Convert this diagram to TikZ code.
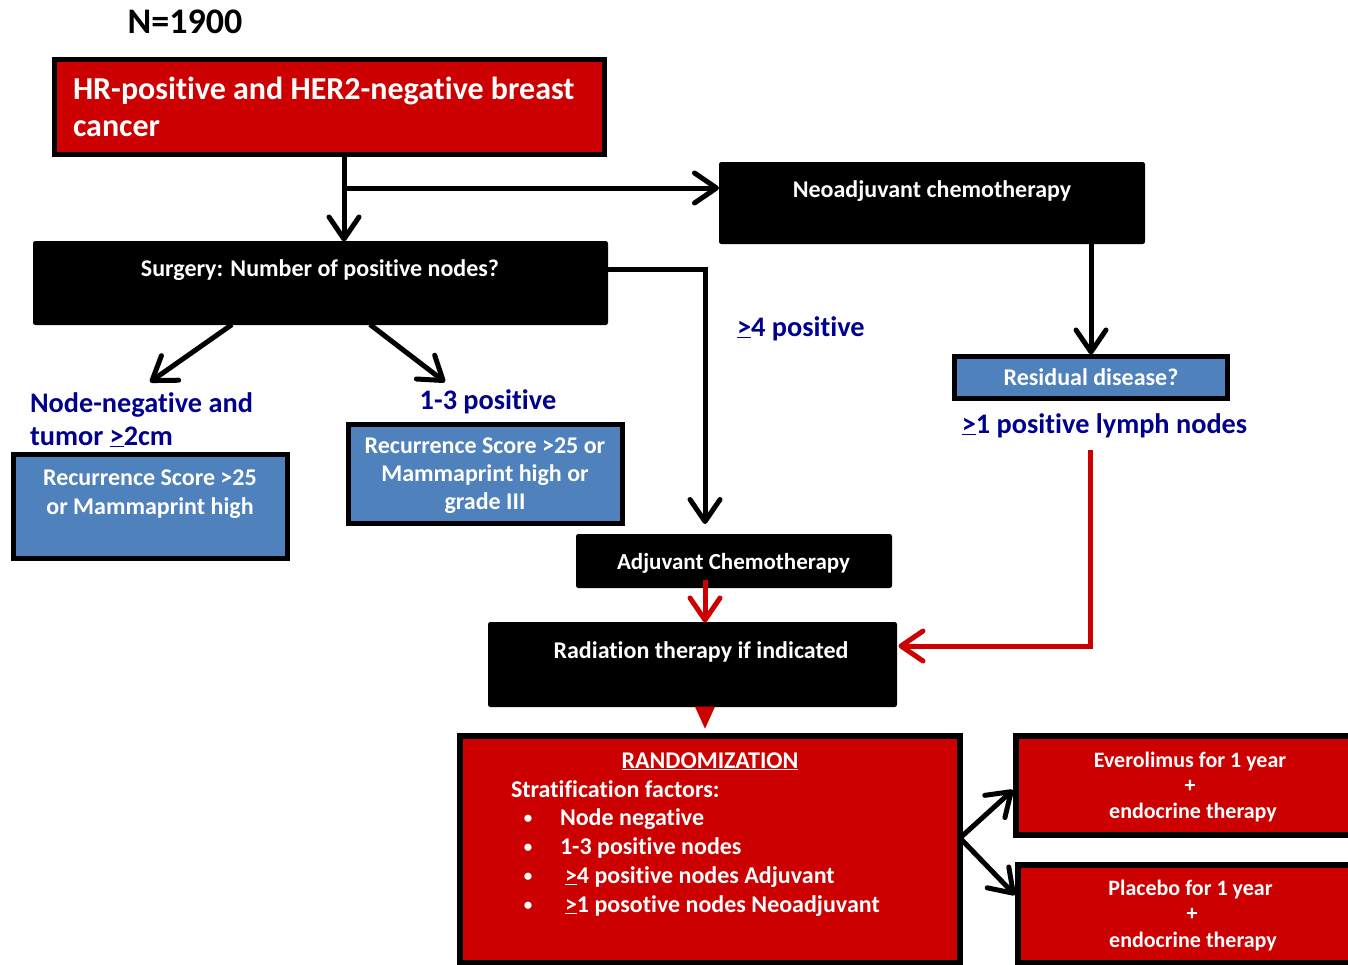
\documentclass[tikz,border=0pt]{standalone}
\usepackage{fontspec}
\setmainfont{Carlito}[Ligatures=NoCommon]
\usetikzlibrary{arrows.meta}
\definecolor{myred}{RGB}{204,0,0}
\definecolor{myblue}{RGB}{79,129,189}
\definecolor{mynavy}{RGB}{0,0,140}
\newcommand\fsz[1]{\fontsize{#1}{#1}\selectfont}
\begin{document}
\begin{tikzpicture}[x=1pt,y=-1pt,
  every node/.style={inner sep=0pt, outer sep=0pt},
  redbox/.style={draw=black, fill=myred, line width=#1},
  bluebox/.style={draw=black, fill=myblue, line width=5pt},
  blackbox/.style={draw=black, fill=black, line width=1pt, rounded corners=2pt},
  wt/.style={text=white, anchor=base, font=\bfseries\fsz{24}},
  nt/.style={text=mynavy, anchor=base west, font=\bfseries\fsz{28.3}},
  conn/.style={draw=black, line width=5pt, -{Straight Barb[length=22pt,width=30pt,round]}},
  redconn/.style={draw=myred, line width=5pt, -{Straight Barb[length=22pt,width=30pt,round]}},
  tri/.style={draw=myred, line width=0.1pt, -{Triangle[length=22pt,width=20pt,fill=myred]}}
]
\useasboundingbox (0,0) rectangle (1348,964);

% boxes
\node[redbox=5pt, minimum width=550, minimum height=95] (hr) at (329.5,107) {};
\node[blackbox, minimum width=425, minimum height=81] (neo) at (932,203) {};
\node[blackbox, minimum width=574, minimum height=83] (surg) at (320.5,283) {};
\node[bluebox, minimum width=274, minimum height=104] (b1) at (150.5,506.5) {};
\node[bluebox, minimum width=274, minimum height=99] (b2) at (485.5,474) {};
\node[bluebox, minimum width=273, minimum height=42] (res) at (1091,377.5) {};
\node[blackbox, minimum width=315, minimum height=53] (adj) at (734,561) {};
\node[blackbox, minimum width=408, minimum height=84] (rad) at (692.5,664.5) {};
\node[redbox=6pt, minimum width=500, minimum height=227] (rand) at (710,849.5) {};
\node[redbox=6pt, minimum width=341, minimum height=99] (ever) at (1186.5,785.5) {};
\node[redbox=6pt, minimum width=339, minimum height=98] (plac) at (1187.5,914) {};

% texts
\node[anchor=base, font=\bfseries\fsz{36}] (n) at (185,33) {N=1900};
\node[anchor=base west, text=white, font=\bfseries\fsz{32}] (hr1) at (73,99) {HR-positive and HER2-negative breast};
\node[anchor=base west, text=white, font=\bfseries\fsz{32}] (hr2) at (73,136) {cancer};
\node[wt] (neot) at (932,197) {Neoadjuvant chemotherapy};
\node[wt] (surgt) at (320,276) {Surgery: Number of positive nodes?};
\node[nt] (ge4) at (737,336) {\underline{>}4 positive};
\node[nt] (nn1) at (30,412) {Node-negative and};
\node[nt] (nn2) at (30,445) {tumor \underline{>}2cm};
\node[nt, anchor=base] (ot) at (488,409) {1-3 positive};
\node[wt] (b1a) at (150,485) {Recurrence Score >25};
\node[wt] (b1b) at (150,514) {or Mammaprint high};
\node[wt] (b2a) at (485,453) {Recurrence Score >25 or};
\node[wt] (b2b) at (485,481) {Mammaprint high or};
\node[wt] (b2c) at (485,509) {grade III};
\node[wt] (rest) at (1091,385) {Residual disease?};
\node[nt, anchor=base] (lymph) at (1104.5,433) {\underline{>}1 positive lymph nodes};
\node[wt, font=\bfseries\fsz{23}] (adjt) at (733.5,569) {Adjuvant Chemotherapy};
\node[wt] (radt) at (701,658) {Radiation therapy if indicated};
\node[wt] (rt) at (710,768) {\underline{RANDOMIZATION}};
\node[wt, anchor=base west] (sf) at (511,797) {Stratification factors:};
\foreach \yy/\xx/\tt [count=\i] in {825/560/{Node negative}, 854/560/{1-3 positive nodes}, 883/565/{\underline{>}4 positive nodes Adjuvant}, 912/565/{\underline{>}1 posotive nodes Neoadjuvant}}{
  \node[wt, font=\bfseries\fsz{17}] (bul\i) at (528,\yy-2) {•};
  \node[wt, anchor=base west] (it\i) at (\xx,\yy) {\tt};
}
\node[wt, font=\bfseries\fsz{22}] (e1) at (1190,767) {Everolimus for 1 year};
\node[wt, font=\bfseries\fsz{22}] (e2) at (1190,792) {+};
\node[wt, font=\bfseries\fsz{22}] (e3) at (1193,818) {endocrine therapy};
\node[wt, font=\bfseries\fsz{22}] (p1) at (1190.5,895) {Placebo for 1 year};
\node[wt, font=\bfseries\fsz{22}] (p2) at (1192,920) {+};
\node[wt, font=\bfseries\fsz{22}] (p3) at (1193,947) {endocrine therapy};

% coordinates
\coordinate (trunk) at (344,188);
\coordinate (neoin) at (719,188);
\coordinate (adjin) at (705,524);
\coordinate (nnTip) at (150,382);
\coordinate (otTip) at (445,382);
\coordinate (redstart) at (1090,450);

% connectors
\draw[conn] (hr.south -| trunk) -- (surg.north -| trunk);
\draw[conn] (trunk) -- (neoin);
\draw[conn] ([yshift=14]surg.east) -| (adjin);
\draw[conn] ([xshift=-88.5]surg.south) -- (nnTip);
\draw[conn] ([xshift=49.5]surg.south) -- (otTip);
\draw[conn] (res.north |- neo.south) -- ([yshift=2]res.north);
\draw[redconn] (redstart) |- ([yshift=18.5,xshift=2]rad.east);
\draw[redconn] ([xshift=-29,yshift=8]adj.south) -- ([xshift=12.5]rad.north);
\draw[tri] ([xshift=12.5]rad.south) -- ++(0,22);
\draw[conn] ([yshift=11.5]rand.east) -- ([yshift=-4.5,xshift=-3]ever.west);
\draw[conn] ([yshift=11.5]rand.east) -- ([yshift=19,xshift=-3]plac.west);
\end{tikzpicture}
\end{document}
